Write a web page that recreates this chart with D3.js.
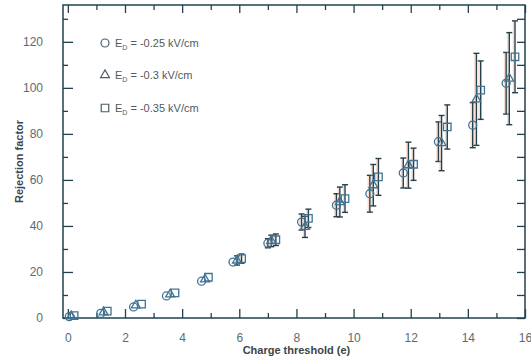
<!DOCTYPE html>
<html>
<head>
<meta charset="utf-8">
<script src="https://cdn.jsdelivr.net/npm/d3@7"></script>
<style>
  html, body { margin: 0; padding: 0; background: #fff; }
  svg { display: block; }
</style>
</head>
<body>
<svg id="chart" width="531" height="363"></svg>
<script>
// Rejection factor vs. charge threshold for three drift fields
const seriesLabels = ["-0.25 kV/cm", "-0.3 kV/cm", "-0.35 kV/cm"];
const seriesShapes = ["circle", "triangle", "square"];

const xCircle   = [0.05, 1.15, 2.30, 3.45, 4.68, 5.78, 7.00, 8.18, 9.40, 10.57, 11.74, 12.97, 14.17, 15.34];
const yCircle   = [0.6, 2.0, 4.8, 9.6, 16.0, 24.3, 32.5, 41.7, 49.0, 54.0, 63.0, 76.6, 83.8, 102.0];
const eCircle   = [0.3, 0.5, 0.8, 1.0, 1.2, 1.5, 2.0, 3.5, 5.0, 8.0, 6.5, 8.6, 9.8, 13.4];

const xTriangle = [0.12, 1.25, 2.38, 3.58, 4.80, 5.92, 7.12, 8.30, 9.52, 10.69, 11.92, 13.08, 14.30, 15.45];
const yTriangle = [0.8, 2.5, 5.5, 10.3, 16.8, 25.0, 33.5, 39.6, 50.4, 57.7, 66.4, 76.0, 95.0, 104.0];
const eTriangle = [0.3, 0.5, 0.8, 1.0, 1.5, 2.0, 2.5, 4.6, 6.5, 9.0, 10.0, 12.0, 20.0, 20.0];

const xSquare   = [0.22, 1.38, 2.58, 3.75, 4.92, 6.08, 7.28, 8.42, 9.70, 10.87, 12.10, 13.28, 14.45, 15.65];
const ySquare   = [1.0, 3.0, 6.0, 10.9, 17.7, 25.8, 34.0, 43.3, 51.9, 61.3, 66.8, 83.0, 99.0, 113.5];
const eSquare   = [0.3, 0.5, 0.8, 1.0, 1.5, 2.0, 2.5, 4.0, 6.0, 8.0, 7.0, 9.6, 12.7, 15.6];

const xTickValues = [0, 2, 4, 6, 8, 10, 12, 14, 16];
const yTickValues = [0, 20, 40, 60, 80, 100, 120];

const series = [
  { shape: "circle",   xs: xCircle,   ys: yCircle,   es: eCircle },
  { shape: "triangle", xs: xTriangle, ys: yTriangle, es: eTriangle },
  { shape: "square",   xs: xSquare,   ys: ySquare,   es: eSquare }
];

const W = 531, H = 363;
const m = { left: 63, right: 6, top: 5, bottom: 45 };
const pw = W - m.left - m.right, ph = H - m.top - m.bottom;

const axisColor = "#22414f";
const labelColor = "#5a6b76";
const markColor = "#3f7393";
const barColor = "#26404b";

const svg = d3.select("#chart");
const g = svg.append("g").attr("transform", `translate(${m.left},${m.top})`);

const x = d3.scaleLinear().domain([-0.17, 16]).range([0, pw]);
const y = d3.scaleLinear().domain([0, 136]).range([ph, 0]);

const font = "'Liberation Sans', Arial, sans-serif";

// frame
g.append("rect").attr("x", 0).attr("y", 0).attr("width", pw).attr("height", ph)
  .attr("fill", "none").attr("stroke", axisColor).attr("stroke-width", 1.5);

const xMinor = d3.range(0, 17, 1).filter(v => v % 2 !== 0);
const yMinor = d3.range(10, 136, 20);

function styleAxis(sel) {
  sel.select(".domain").remove();
  sel.selectAll("line").attr("stroke", axisColor).attr("stroke-width", 1.3);
  sel.selectAll("text").attr("fill", labelColor).style("font-family", font).style("font-size", "12px");
}

// bottom axis, ticks pointing inward
g.append("g").attr("transform", `translate(0,${ph})`)
  .call(d3.axisBottom(x).tickValues(xTickValues).tickSize(-9).tickPadding(15).tickFormat(d3.format("d")))
  .call(styleAxis);
g.append("g").attr("transform", `translate(0,${ph})`)
  .call(d3.axisBottom(x).tickValues(xMinor).tickSize(-5).tickFormat(""))
  .call(styleAxis);

// top axis
g.append("g")
  .call(d3.axisTop(x).tickValues(xTickValues).tickSize(-8).tickFormat(""))
  .call(styleAxis);
g.append("g")
  .call(d3.axisTop(x).tickValues(xMinor).tickSize(-5).tickFormat(""))
  .call(styleAxis);

// left axis
g.append("g")
  .call(d3.axisLeft(y).tickValues(yTickValues).tickSize(-10).tickPadding(20).tickFormat(d3.format("d")))
  .call(styleAxis);
g.append("g")
  .call(d3.axisLeft(y).tickValues(yMinor).tickSize(-5).tickFormat(""))
  .call(styleAxis);

// right axis
g.append("g").attr("transform", `translate(${pw},0)`)
  .call(d3.axisRight(y).tickValues(yTickValues.concat(yMinor)).tickSize(-8).tickFormat(""))
  .call(styleAxis);

// axis titles
svg.append("text")
  .attr("x", m.left + x(8)).attr("y", 354)
  .attr("text-anchor", "middle")
  .style("font-family", font).style("font-size", "11px").style("font-weight", "bold")
  .attr("fill", "#3d4448")
  .text("Charge threshold (e)");

svg.append("text")
  .attr("transform", `translate(23,${m.top + ph / 2}) rotate(-90)`)
  .attr("text-anchor", "middle")
  .style("font-family", font).style("font-size", "11px").style("font-weight", "bold")
  .attr("fill", "#3d4448")
  .text("Rejection factor");

const symbolGen = {
  circle: d3.symbol().type(d3.symbolCircle).size(50),
  triangle: d3.symbol().type(d3.symbolTriangle).size(34),
  square: d3.symbol().type(d3.symbolSquare).size(56)
};

// error bars
series.forEach(s => {
  const eg = g.append("g");
  s.xs.forEach((xv, i) => {
    const e = s.es[i];
    if (e < 1.9) return;
    const px = x(xv), y1 = y(s.ys[i] + e), y2 = y(s.ys[i] - e);
    // faint warm fringe beside each bar
    eg.append("line").attr("x1", px - 1.5).attr("x2", px - 1.5).attr("y1", y1).attr("y2", y2)
      .attr("stroke", "#f2b093").attr("stroke-width", 1.5).attr("opacity", 0.45);
    eg.append("line").attr("x1", px).attr("x2", px).attr("y1", y1).attr("y2", y2)
      .attr("stroke", barColor).attr("stroke-width", 1.4);
    [y1, y2].forEach(cy => {
      eg.append("line").attr("x1", px - 3).attr("x2", px + 3).attr("y1", cy).attr("y2", cy)
        .attr("stroke", barColor).attr("stroke-width", 1.4);
    });
  });
});

// markers
series.forEach(s => {
  g.append("g").selectAll("path").data(s.xs).join("path")
    .attr("transform", (d, i) => `translate(${x(d)},${y(s.ys[i])})`)
    .attr("d", symbolGen[s.shape]())
    .attr("fill", "none")
    .attr("stroke", markColor)
    .attr("stroke-width", 1.3);
});

// legend
const legend = svg.append("g");
const legendY = [43, 75, 108];
seriesLabels.forEach((lab, i) => {
  legend.append("path")
    .attr("transform", `translate(105,${legendY[i]})`)
    .attr("d", symbolGen[seriesShapes[i]]())
    .attr("fill", "none").attr("stroke", "#4b5d68").attr("stroke-width", 1.2);
  const t = legend.append("text")
    .attr("x", 115).attr("y", legendY[i] + 4)
    .style("font-family", font).style("font-size", "11px")
    .attr("fill", "#4f5a60");
  t.append("tspan").text("E");
  t.append("tspan").attr("dy", 3).style("font-size", "7px").text("D");
  t.append("tspan").attr("dy", -3).text(" = " + lab);
});
</script>
</body>
</html>
